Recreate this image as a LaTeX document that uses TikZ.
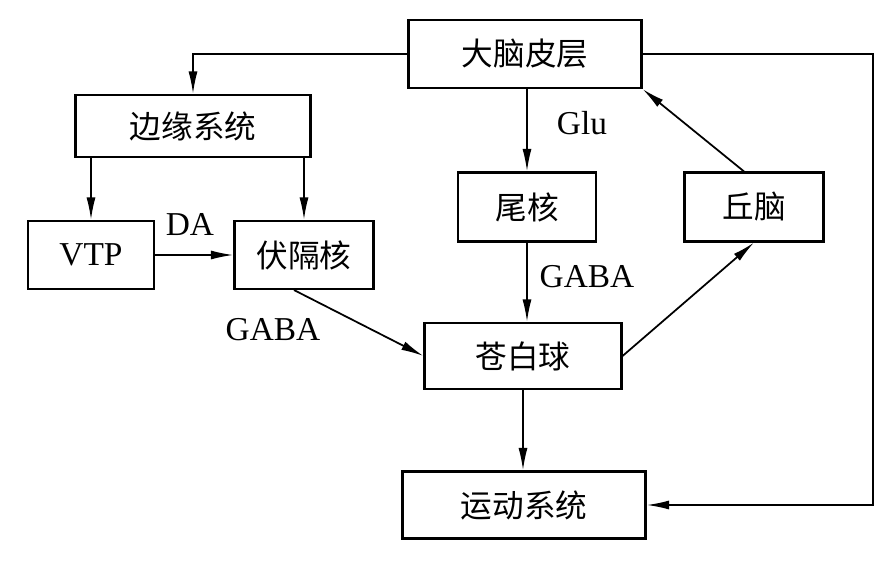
\documentclass[tikz,border=0pt]{standalone}
\usepackage{fontspec}
\setmainfont{Liberation Serif}
\newfontfamily\cjk{Noto Sans CJK SC}
\usetikzlibrary{arrows.meta}

\tikzset{
	box/.style={draw, line width=1.2pt, inner sep=0pt, font=\cjk\fontsize{18}{20}\selectfont},
	arr/.style={line width=1pt, -{Latex[length=4.5mm,width=1.8mm]}},
	lbl/.style={font=\fontsize{19}{21}\selectfont}
}

\begin{document}
\begin{tikzpicture}[x=0.02cm,y=-0.02cm]
			\useasboundingbox (0,0) rectangle (886,565);
			\node[box, minimum width=4.66cm, minimum height=1.36cm] (cortex) at (525,54) {大脑皮层};
			\node[box, minimum width=4.7cm, minimum height=1.24cm] (limbic) at (193,126) {边缘系统};
			\node[box, minimum width=2.52cm, minimum height=1.36cm] (vtp) at (91,255) {\fontspec{Liberation Serif}\fontsize{19}{21}\selectfont VTP};
			\node[box, minimum width=2.78cm, minimum height=1.36cm] (nacc) at (304,255) {伏隔核};
			\node[box, minimum width=2.76cm, minimum height=1.38cm] (caudate) at (527,207) {尾核};
			\node[box, minimum width=2.78cm, minimum height=1.38cm] (thalamus) at (754,207) {丘脑};
			\node[box, minimum width=3.94cm, minimum height=1.32cm] (pallidus) at (523,356) {苍白球};
			\node[box, minimum width=4.86cm, minimum height=1.34cm] (motor) at (524,505) {运动系统};
			\coordinate (rgt) at (873,53);
			% edges
			\draw[arr] (cortex.west) -| (limbic.north);
			\draw[arr] (cortex.east) -- (cortex.east -| rgt) |- (motor.east);
			\draw[arr] (caudate.north |- cortex.south) -- (caudate.north);
			\draw (582,123) node[lbl] {Glu};
			\draw[arr] (limbic.south -| vtp.north) -- (vtp.north);
			\draw[arr] (limbic.south -| nacc.north) -- (nacc.north);
			\draw[arr] (vtp.east) -- (nacc.west);
			\draw (190,225) node[lbl] {DA};
			\draw[arr] ([xshift=-0.2cm]nacc.south) -- (pallidus.west);
			\draw (273,330) node[lbl] {GABA};
			\draw[arr] (caudate.south) -- (caudate.south |- pallidus.north);
			\draw (587,277) node[lbl] {GABA};
			\draw[arr] (pallidus.east) -- (thalamus.south);
			\draw[arr] ([xshift=-0.2cm]thalamus.north) -- (cortex.south east);
			\draw[arr] (pallidus.south) -- (pallidus.south |- motor.north);
		\end{tikzpicture}
\end{document}
